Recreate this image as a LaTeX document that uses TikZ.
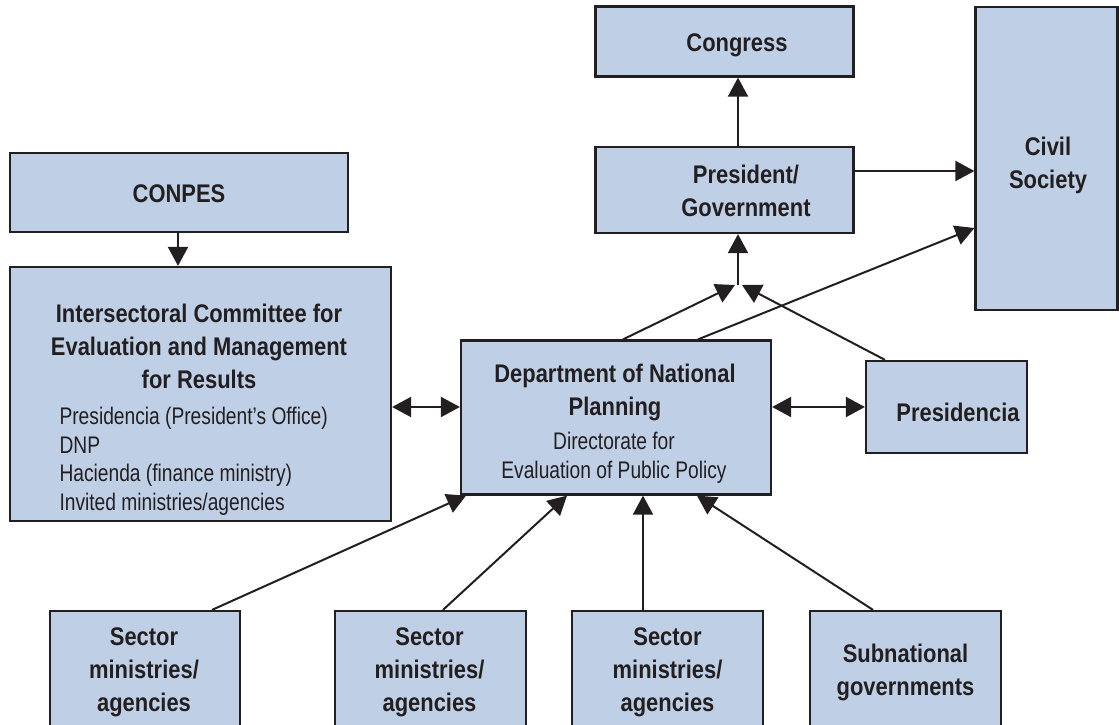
\documentclass[tikz,border=0pt]{standalone}
\usepackage{fontspec}
\setmainfont{Liberation Sans}[FakeStretch=0.8]
\newfontfamily\headfont{Liberation Sans}[FakeStretch=0.86]
\usetikzlibrary{arrows.meta}
\definecolor{boxblue}{HTML}{BFD0E6}
\definecolor{boxline}{HTML}{231F20}
\tikzset{
  box/.style={draw=boxline, fill=boxblue, line width=2.2pt, inner sep=0pt},
  head/.style={font=\headfont\bfseries\fontsize{25.5}{33}\selectfont, text=boxline, align=center},
  plain/.style={font=\fontsize{24}{28.5}\selectfont, text=boxline},
  link/.style={draw=boxline, line width=2pt, -{Triangle[length=19pt,width=20pt]}},
  dbl/.style={draw=boxline, line width=2pt, {Triangle[length=19pt,width=20pt]}-{Triangle[length=19pt,width=20pt]}}
}
\begin{document}
\begin{tikzpicture}[x=1pt,y=-1pt]
\useasboundingbox (0,0) rectangle (1119,725);
\node[box, minimum width=258, minimum height=70] (congress) at (724.5,41.5) {};
\node[head] at (737,45) {Congress};
\node[box, minimum width=258, minimum height=86] (pres) at (724.5,190) {};
\node[head] at (746,191) {President/\\Government};
\node[box, minimum width=142, minimum height=303] (civil) at (1046.5,158.5) {};
\node[head] at (1048,165) {Civil\\Society};
\node[box, minimum width=338, minimum height=79] (conpes) at (179,192.5) {};
\node[head] at (179,194) {CONPES};
\node[box, minimum width=381, minimum height=254] (isc) at (200.5,394) {};
\node[head] at (199,346) {Intersectoral Committee for\\Evaluation and Management\\for Results};
\node[plain, align=left, anchor=west] at (56,461.5) {Presidencia (President’s Office)\\DNP\\Hacienda (finance ministry)\\Invited ministries/agencies};
\node[box, minimum width=310, minimum height=154] (dnp) at (616,417.5) {};
\node[head] at (615,392) {Department of National\\Planning};
\node[plain, align=center] at (614,458) {Directorate for\\Evaluation of Public Policy};
\node[box, minimum width=161, minimum height=92] (presid) at (946.5,407) {};
\node[head] at (958,412) {Presidencia};

% bottom row
\node[box, minimum width=190, minimum height=130] (sec1) at (145,676) {};
\node[head] at (144,672) {Sector\\ministries/\\agencies};
\node[box, minimum width=191, minimum height=130] (sec2) at (430.5,676) {};
\node[head] at (429.5,672) {Sector\\ministries/\\agencies};
\node[box, minimum width=191, minimum height=130] (sec3) at (667.5,676) {};
\node[head] at (667.5,672) {Sector\\ministries/\\agencies};
\node[box, minimum width=191, minimum height=130] (subn) at (905.5,676) {};
\node[head] at (905.5,672) {Subnational\\governments};

\coordinate (jn) at (738,285);

\path[link] ([xshift=13.5]pres.north) -- ([xshift=13.5]congress.south);
\path[link] ([yshift=19]pres.east) -- ([yshift=-12.5]civil.west);
\path[link] (jn) -- ([xshift=13.5]pres.south);
\path[link] ([xshift=7]dnp.north) -- ([xshift=-3]jn);
\path[link] ([xshift=-61.5]presid.north) -- ([xshift=4]jn);
\path[link] ([xshift=82]dnp.north) -- ([yshift=-69.5]civil.west);
\path[link] ([xshift=-1]conpes.south) -- ([xshift=-1]conpes.south |- isc.north);
\path[dbl] ([yshift=-13]isc.east) -- ([yshift=10.5]dnp.west);
\path[dbl] ([yshift=10.5]dnp.east) -- (presid.west);
\path[link] ([xshift=67]sec1.north) -- ([xshift=-150]dnp.south);
\path[link] ([xshift=12.5]sec2.north) -- ([xshift=-49]dnp.south);
\path[link] ([xshift=-24.5]sec3.north) -- ([xshift=27]dnp.south);
\path[link] ([xshift=-32.5]subn.north) -- ([xshift=81]dnp.south);
\end{tikzpicture}
\end{document}
